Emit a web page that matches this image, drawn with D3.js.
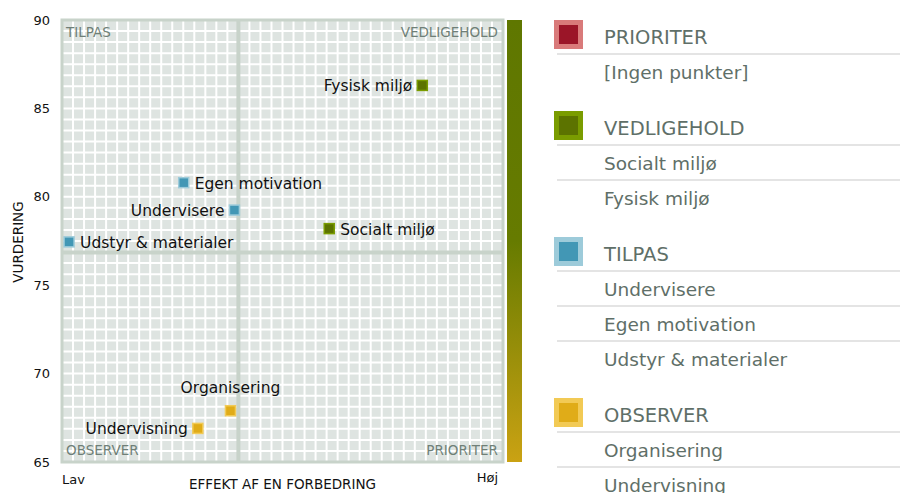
<!DOCTYPE html>
<html>
<head>
<meta charset="utf-8">
<script src="https://cdn.jsdelivr.net/npm/d3@7"></script>
<style>
body{margin:0;background:#fff;}
text{font-family:"DejaVu Sans",Verdana,sans-serif;}
</style>
</head>
<body>
<script>
// punkter: navn, effekt (0-100, Lav..Høj), vurdering, kategori
var names    = ["Socialt miljø","Fysisk miljø","Undervisere","Egen motivation","Udstyr & materialer","Organisering","Undervisning"];
var effekt   = [60.6, 81.7, 39.1, 27.6, 1.6, 38.2, 30.8];
var vurdering= [78.2, 86.3, 79.25, 80.8, 77.45, 67.9, 66.9];
var kategori = ["VEDLIGEHOLD","VEDLIGEHOLD","TILPAS","TILPAS","TILPAS","OBSERVER","OBSERVER"];

var groups = ["PRIORITER","VEDLIGEHOLD","TILPAS","OBSERVER"];
var yTicks = [65,70,75,80,85,90];
var xDomain = [0,100], yDomain = [65,90];
var xSplit = 40, ySplit = 76.85;   // kvadrant-skel

var fillCol  = {PRIORITER:"#9b1528",VEDLIGEHOLD:"#5c7300",TILPAS:"#4297b5",OBSERVER:"#e0ac18"};
var lightCol = {PRIORITER:"#d97a7a",VEDLIGEHOLD:"#7a9c00",TILPAS:"#9dcbda",OBSERVER:"#f2ca55"};
var side = {"Fysisk miljø":"left","Undervisere":"left","Undervisning":"left","Organisering":"top"};

var pts = names.map(function(n,i){return {name:n,x:effekt[i],y:vurdering[i],cat:kategori[i]};});

var W=900,H=493;
var m={left:62,top:20,w:441,h:442};
var svg=d3.select("body").append("svg").attr("width",W).attr("height",H);

var x=d3.scaleLinear().domain(xDomain).range([m.left,m.left+m.w]);
var y=d3.scaleLinear().domain(yDomain).range([m.top+m.h,m.top]);

// baggrund + gitter
var g=svg.append("g");
g.append("rect").attr("x",m.left).attr("y",m.top).attr("width",m.w).attr("height",m.h).attr("fill","#dee4e1");
var gx=d3.range(1,40).map(function(i){return xDomain[0]+i*(xDomain[1]-xDomain[0])/40;});
var gy=d3.range(1,40).map(function(i){return yDomain[0]+i*(yDomain[1]-yDomain[0])/40;});
g.selectAll("line.vx").data(gx).enter().append("line")
  .attr("x1",function(d){return x(d);}).attr("x2",function(d){return x(d);})
  .attr("y1",m.top).attr("y2",m.top+m.h).attr("stroke","#fff").attr("stroke-width",2);
g.selectAll("line.hy").data(gy).enter().append("line")
  .attr("y1",function(d){return y(d);}).attr("y2",function(d){return y(d);})
  .attr("x1",m.left).attr("x2",m.left+m.w).attr("stroke","#fff").attr("stroke-width",2);
g.append("line").attr("x1",x(xSplit)).attr("x2",x(xSplit)).attr("y1",m.top).attr("y2",m.top+m.h)
  .attr("stroke","#c8d3ca").attr("stroke-width",4);
g.append("line").attr("y1",y(ySplit)).attr("y2",y(ySplit)).attr("x1",m.left).attr("x2",m.left+m.w)
  .attr("stroke","#c8d3ca").attr("stroke-width",4);
g.append("rect").attr("x",m.left).attr("y",m.top).attr("width",m.w).attr("height",m.h)
  .attr("fill","none").attr("stroke","#c8d3ca").attr("stroke-width",3);

// kvadrant-navne
var qc="#6f7f77", qs=13.5;
g.append("text").attr("x",m.left+4).attr("y",m.top+17).text("TILPAS").attr("fill",qc).attr("font-size",qs);
g.append("text").attr("x",m.left+m.w-5).attr("y",m.top+17).attr("text-anchor","end").text("VEDLIGEHOLD").attr("fill",qc).attr("font-size",qs);
g.append("text").attr("x",m.left+4).attr("y",m.top+m.h-7).text("OBSERVER").attr("fill",qc).attr("font-size",qs);
g.append("text").attr("x",m.left+m.w-5).attr("y",m.top+m.h-7).attr("text-anchor","end").text("PRIORITER").attr("fill",qc).attr("font-size",qs);

// gradient-bjælke
var grad=svg.append("defs").append("linearGradient").attr("id","gb").attr("x1",0).attr("x2",0).attr("y1",0).attr("y2",1);
grad.append("stop").attr("offset","0%").attr("stop-color","#5f7700");
grad.append("stop").attr("offset","50%").attr("stop-color","#667b00");
grad.append("stop").attr("offset","100%").attr("stop-color","#caa213");
svg.append("rect").attr("x",507).attr("y",m.top).attr("width",15).attr("height",m.h).attr("fill","url(#gb)");

// y-akse
var yAxis=d3.axisLeft(y).tickValues(yTicks).tickSize(0).tickPadding(12);
var ya=svg.append("g").attr("transform","translate("+m.left+",0)").call(yAxis);
ya.select(".domain").remove();
ya.selectAll("text").attr("font-size",13).attr("fill","#111").attr("font-family","'DejaVu Sans',sans-serif");

svg.append("text").attr("transform","translate(23,242) rotate(-90)")
  .attr("text-anchor","middle").attr("font-size",13.5).attr("fill","#111").text("VURDERING");
svg.append("text").attr("x",m.left+m.w/2).attr("y",489).attr("text-anchor","middle")
  .attr("font-size",13.5).attr("fill","#111").text("EFFEKT AF EN FORBEDRING");
svg.append("text").attr("x",m.left).attr("y",484).attr("font-size",13).attr("fill","#111").text("Lav");
svg.append("text").attr("x",m.left+m.w-5).attr("y",482).attr("text-anchor","end").attr("font-size",13).attr("fill","#111").text("Høj");

// punkter
var pg=svg.append("g");
pg.selectAll("rect.pt").data(pts).enter().append("rect")
  .attr("x",function(d){return x(d.x)-5;}).attr("y",function(d){return y(d.y)-5;})
  .attr("width",10).attr("height",10)
  .attr("fill",function(d){return fillCol[d.cat];})
  .attr("stroke",function(d){return lightCol[d.cat];}).attr("stroke-width",1.5);
pg.selectAll("text.lbl").data(pts).enter().append("text")
  .attr("font-size",15.5).attr("fill","#111")
  .attr("x",function(d){var s=side[d.name]; return s=="left"?x(d.x)-10:s=="top"?x(d.x):x(d.x)+11;})
  .attr("y",function(d){return side[d.name]=="top"?y(d.y)-18:y(d.y)+6;})
  .attr("text-anchor",function(d){var s=side[d.name]; return s=="left"?"end":s=="top"?"middle":"start";})
  .text(function(d){return d.name;});

// legende
var lg=svg.append("g");
var base=44;
groups.forEach(function(gr){
  var items=pts.filter(function(p){return p.cat==gr;}).map(function(p){return p.name;});
  if(items.length==0) items=["[Ingen punkter]"];
  lg.append("rect").attr("x",554).attr("y",base-24).attr("width",29).attr("height",29).attr("fill",lightCol[gr]);
  lg.append("rect").attr("x",559).attr("y",base-19).attr("width",19).attr("height",19).attr("fill",fillCol[gr]);
  lg.append("text").attr("x",604).attr("y",base).attr("font-size",19.5).attr("fill","#5f6f68").text(gr);
  items.forEach(function(it,k){
    var ly=base+35*(k+1);
    lg.append("line").attr("x1",557).attr("x2",900).attr("y1",ly-25).attr("y2",ly-25).attr("stroke","#e4e4e4").attr("stroke-width",2);
    lg.append("text").attr("x",604).attr("y",ly).attr("font-size",18.5).attr("fill","#5f6f68").text(it);
  });
  base+=56+35*items.length;
});
</script>
</body>
</html>
